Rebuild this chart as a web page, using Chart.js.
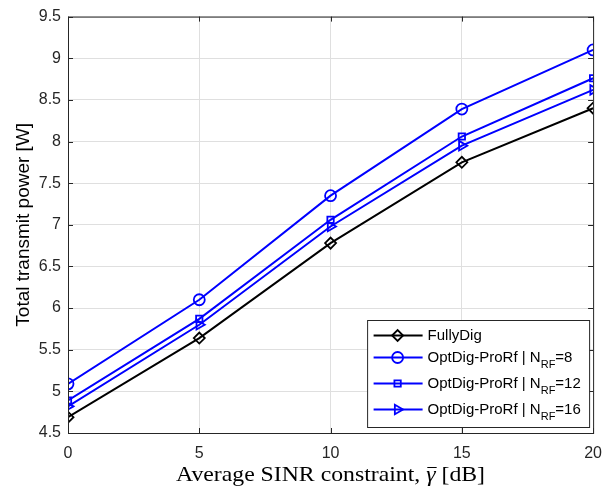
<!DOCTYPE html>
<html>
<head>
<meta charset="utf-8">
<script src="https://cdn.jsdelivr.net/npm/chart.js@4.4.1/dist/chart.umd.min.js"></script>
<style>
  html, body { margin: 0; padding: 0; background: #fff; }
  #wrap { width: 613px; height: 487px; }
</style>
</head>
<body>
<div id="wrap"><canvas id="chart" width="613" height="487"></canvas></div>
<script>
// SINR constraint (dB) and total transmit power (W) per scheme
const sinrDb = [0, 5, 10, 15, 20];
const fullyDig = [4.69, 5.64, 6.78, 7.75, 8.40];
const optNrf8 = [5.09, 6.10, 7.35, 8.39, 9.10];
const optNrf12 = [4.89, 5.87, 7.06, 8.06, 8.76];
const optNrf16 = [4.82, 5.80, 6.98, 7.95, 8.62];

const xTicks = [0, 5, 10, 15, 20];
const yTicks = [4.5, 5, 5.5, 6, 6.5, 7, 7.5, 8, 8.5, 9, 9.5];

const BLUE = 'rgb(0,0,255)';
const BLACK = 'rgb(0,0,0)';
const AXIS = 'rgb(38,38,38)';
const SANS = '"Liberation Sans", Arial, Helvetica, sans-serif';
const SERIF = '"Liberation Serif", "Times New Roman", serif';

// legend entries: main text, optional subscript and trailing text
const legendRows = [
    { main: 'FullyDig', sub: '', tail: '' },
    { main: 'OptDig-ProRf | N', sub: 'RF', tail: '=8' },
    { main: 'OptDig-ProRf | N', sub: 'RF', tail: '=12' },
    { main: 'OptDig-ProRf | N', sub: 'RF', tail: '=16' },
];

// x label pieces: plain text, symbol (drawn with an overbar), unit
const xTitle = ['Average SINR constraint, ', 'γ', ' [dB]'];

const toPts = arr => arr.map((y, i) => ({ x: sinrDb[i], y }));

const series = (label, data, color, style, rot, radius) => ({
    label,
    data: toPts(data),
    borderColor: color,
    backgroundColor: 'transparent',
    borderWidth: 2,
    pointStyle: style,
    pointRotation: rot,
    pointRadius: radius,
    pointBorderWidth: 1.8,
    pointBorderColor: color,
    pointBackgroundColor: 'transparent',
    tension: 0,
});

// MATLAB-like box with inward ticks on all four sides
const boxPlugin = {
    id: 'box',
    afterDatasetsDraw(chart) {
        const { ctx, chartArea: a, scales: { x, y } } = chart;
        ctx.save();
        ctx.strokeStyle = AXIS;
        ctx.lineWidth = 1;
        ctx.strokeRect(a.left + 0.5, a.top + 0.5, a.right - a.left, a.bottom - a.top);
        ctx.beginPath();
        const t = 5;
        xTicks.forEach(v => {
            const px = Math.round(x.getPixelForValue(v)) + 0.5;
            ctx.moveTo(px, a.bottom); ctx.lineTo(px, a.bottom - t);
            ctx.moveTo(px, a.top); ctx.lineTo(px, a.top + t);
        });
        yTicks.forEach(v => {
            const py = Math.round(y.getPixelForValue(v)) + 0.5;
            ctx.moveTo(a.left, py); ctx.lineTo(a.left + t, py);
            ctx.moveTo(a.right, py); ctx.lineTo(a.right - t, py);
        });
        ctx.stroke();
        ctx.restore();
    },
};

// x axis label in a LaTeX-like serif, gamma with an overbar
const xTitlePlugin = {
    id: 'xTitle',
    afterDraw(chart) {
        const { ctx } = chart;
        const left = 176, base = 481, width = 309;
        ctx.save();
        ctx.fillStyle = BLACK;
        ctx.textBaseline = 'alphabetic';
        const upright = '21px ' + SERIF;
        const italic = 'italic 21px ' + SERIF;
        ctx.font = upright;
        const w0 = ctx.measureText(xTitle[0]).width;
        const w2 = ctx.measureText(xTitle[2]).width;
        ctx.font = italic;
        const w1 = ctx.measureText(xTitle[1]).width;
        const k = width / (w0 + w1 + w2);
        ctx.translate(left, base);
        ctx.scale(k, 1);
        ctx.font = upright;
        ctx.fillText(xTitle[0], 0, 0);
        ctx.font = italic;
        ctx.fillText(xTitle[1], w0, 0);
        ctx.strokeStyle = BLACK;
        ctx.lineWidth = 1;
        ctx.beginPath();
        ctx.moveTo(w0 + 1, -13.5);
        ctx.lineTo(w0 + w1 + 1, -13.5);
        ctx.stroke();
        ctx.font = upright;
        ctx.fillText(xTitle[2], w0 + w1, 0);
        ctx.restore();
    },
};

// legend box in the lower-right corner of the plot
const legendPlugin = {
    id: 'innerLegend',
    afterDraw(chart) {
        const { ctx, chartArea: a } = chart;
        const boxW = 222, boxH = 107;
        const bx = a.right - boxW - 3.5, by = a.bottom - boxH - 5.5;
        ctx.save();
        ctx.fillStyle = '#fff';
        ctx.fillRect(bx, by, boxW, boxH);
        ctx.strokeStyle = AXIS;
        ctx.lineWidth = 1;
        ctx.strokeRect(bx, by, boxW, boxH);
        const rowY = [15, 37, 63, 89];
        chart.data.datasets.forEach((ds, i) => {
            const cy = by + rowY[i];
            ctx.strokeStyle = ds.borderColor;
            ctx.lineWidth = 2;
            ctx.beginPath();
            ctx.moveTo(bx + 6, cy);
            ctx.lineTo(bx + 55, cy);
            ctx.stroke();
            ctx.lineWidth = ds.pointBorderWidth;
            ctx.fillStyle = 'rgba(0,0,0,0)';
            Chart.helpers.drawPoint(ctx, {
                pointStyle: ds.pointStyle,
                rotation: ds.pointRotation,
                radius: ds.pointRadius,
                borderWidth: ds.pointBorderWidth,
            }, bx + 30, cy);
            const row = legendRows[i];
            ctx.fillStyle = BLACK;
            ctx.textBaseline = 'middle';
            ctx.font = '15px ' + SANS;
            let tx = bx + 60;
            ctx.fillText(row.main, tx, cy);
            tx += ctx.measureText(row.main).width;
            if (row.sub) {
                ctx.font = '11px ' + SANS;
                ctx.fillText(row.sub, tx, cy + 7);
                tx += ctx.measureText(row.sub).width;
                ctx.font = '15px ' + SANS;
                ctx.fillText(row.tail, tx, cy);
            }
        });
        ctx.restore();
    },
};

new Chart(document.getElementById('chart'), {
    type: 'line',
    data: {
        datasets: [
            series('FullyDig', fullyDig, BLACK, 'rectRot', 0, 5.5),
            series('OptDig-ProRf | NRF=8', optNrf8, BLUE, 'circle', 0, 5.5),
            series('OptDig-ProRf | NRF=12', optNrf12, BLUE, 'rect', 0, 4.5),
            series('OptDig-ProRf | NRF=16', optNrf16, BLUE, 'triangle', 90, 5.5),
        ],
    },
    options: {
        responsive: false,
        animation: false,
        layout: { padding: { left: 12, right: 19, top: 15, bottom: 0 } },
        plugins: {
            legend: { display: false },
            tooltip: { enabled: false },
        },
        scales: {
            x: {
                type: 'linear',
                min: 0,
                max: 20,
                afterBuildTicks: s => { s.ticks = xTicks.map(v => ({ value: v })); },
                afterFit: s => { s.height = 54; },
                grid: { color: 'rgb(223,223,223)', drawTicks: false },
                border: { display: false },
                ticks: { color: AXIS, font: { family: SANS, size: 16 }, padding: 11, maxRotation: 0 },
            },
            y: {
                type: 'linear',
                min: 4.5,
                max: 9.5,
                afterBuildTicks: s => { s.ticks = yTicks.map(v => ({ value: v })); },
                afterFit: s => { s.width = 56; },
                grid: { color: 'rgb(223,223,223)', drawTicks: false },
                border: { display: false },
                ticks: {
                    color: AXIS,
                    font: { family: SANS, size: 16 },
                    padding: 7,
                    callback: v => String(v),
                },
                title: {
                    display: true,
                    text: 'Total transmit power [W]',
                    color: BLACK,
                    font: { family: SANS, size: 19 },
                    padding: { top: 0, bottom: 0 },
                },
            },
        },
    },
    plugins: [boxPlugin, xTitlePlugin, legendPlugin],
});
</script>
</body>
</html>
